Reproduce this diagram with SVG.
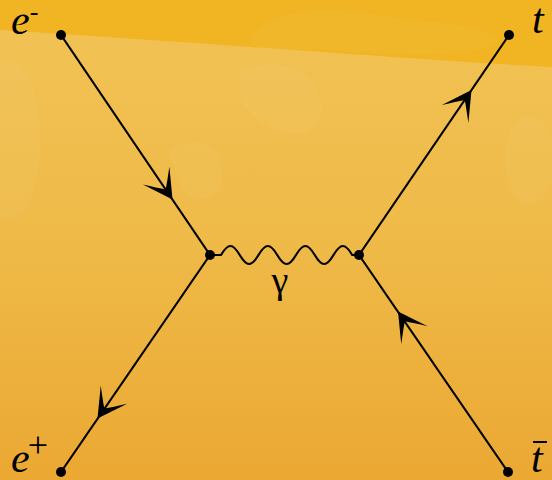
<svg xmlns="http://www.w3.org/2000/svg" width="552" height="480" viewBox="0 0 552 480">
  <defs>
    <linearGradient id="bg" x1="0" y1="0" x2="0" y2="1">
      <stop offset="0" stop-color="#F1C355"/>
      <stop offset="0.5" stop-color="#EFBA48"/>
      <stop offset="1" stop-color="#EBA833"/>
    </linearGradient>
    <path id="arr" d="M0,0 L-29,-16 Q-18,-6 -12,0 Q-18,6 -29,16 Z"/>
    <style>
      .fermion { stroke: #000; stroke-width: 2.2; fill: none; }
      .photon { stroke: #000; stroke-width: 2.2; fill: none; }
      .dot { fill: #000; }
      .head { fill: #000; }
      .lbl { font-family: "Liberation Serif", "Times New Roman", serif; font-style: italic; font-size: 42px; fill: #000; }
      .sym { font-family: "Liberation Serif", "Times New Roman", serif; font-style: normal; fill: #000; }
      .blob { fill: #FFFFFF; opacity: 0.035; }
    </style>
  </defs>

  <g id="background">
    <rect x="0" y="0" width="552" height="480" fill="url(#bg)"/>
    <path d="M0,0 H552 V67 C420,60 220,44 0,30 Z" fill="#F1B524"/>
    <path class="blob" d="M250,40 C260,10 330,5 380,15 C430,25 470,20 500,40 C470,60 400,55 330,50 C290,48 255,55 250,40 Z"/>
    <ellipse class="blob" cx="10" cy="140" rx="30" ry="80"/>
    <path class="blob" d="M240,70 C280,55 330,70 320,120 C300,150 260,130 240,100 Z"/>
    <path class="blob" d="M170,150 C200,130 230,150 220,190 C200,210 175,195 170,150 Z"/>
    <ellipse class="blob" cx="530" cy="160" rx="25" ry="45"/>
  </g>

  <g id="connectors">
    <line id="e-minus-line" class="fermion" x1="61" y1="35" x2="210" y2="255"/>
    <line id="e-plus-line" class="fermion" x1="210" y1="255" x2="61" y2="472"/>
    <line id="t-line" class="fermion" x1="359" y1="255" x2="509" y2="35"/>
    <line id="tbar-line" class="fermion" x1="508" y1="472" x2="359" y2="255"/>
    <path id="photon" class="photon" d="M210,255 L221,255 c7.1,-12 11.65,-12 18.75,0 c7.1,12 11.65,12 18.75,0 c7.1,-12 11.65,-12 18.75,0 c7.1,12 11.65,12 18.75,0 c7.1,-12 11.65,-12 18.75,0 c7.1,12 11.65,12 18.75,0 c7.1,-12 11.65,-12 18.75,0 L359,255"/>
    <use href="#arr" class="head" transform="translate(172.5,199.5) rotate(55.7)"/>
    <use href="#arr" class="head" transform="translate(471.5,90) rotate(-55.7)"/>
    <use href="#arr" class="head" transform="translate(97.5,418.5) rotate(124.5)"/>
    <use href="#arr" class="head" transform="translate(398,311.4) rotate(-124.5)"/>
  </g>

  <g id="node-e-minus">
    <circle class="dot" cx="61" cy="35" r="5"/>
    <text class="lbl" x="11" y="34">e<tspan class="sym" font-size="26" dy="-14">-</tspan></text>
  </g>
  <g id="node-e-plus">
    <circle class="dot" cx="61" cy="472" r="5"/>
    <text class="lbl" x="11" y="472">e<tspan class="sym" font-size="36" dx="-2" dy="-15">+</tspan></text>
  </g>
  <g id="node-t">
    <circle class="dot" cx="509" cy="35" r="5"/>
    <text class="lbl" x="532" y="33">t</text>
  </g>
  <g id="node-tbar">
    <circle class="dot" cx="508" cy="472" r="5"/>
    <text class="lbl" x="531" y="472">t</text>
    <line x1="533" y1="442" x2="547" y2="442" stroke="#000" stroke-width="2"/>
  </g>
  <g id="vertex-left">
    <circle class="dot" cx="210" cy="255" r="5"/>
  </g>
  <g id="vertex-right">
    <circle class="dot" cx="359" cy="255" r="5"/>
  </g>
  <g id="photon-label">
    <text class="sym" x="280" y="293" font-size="38" text-anchor="middle">γ</text>
  </g>
</svg>
